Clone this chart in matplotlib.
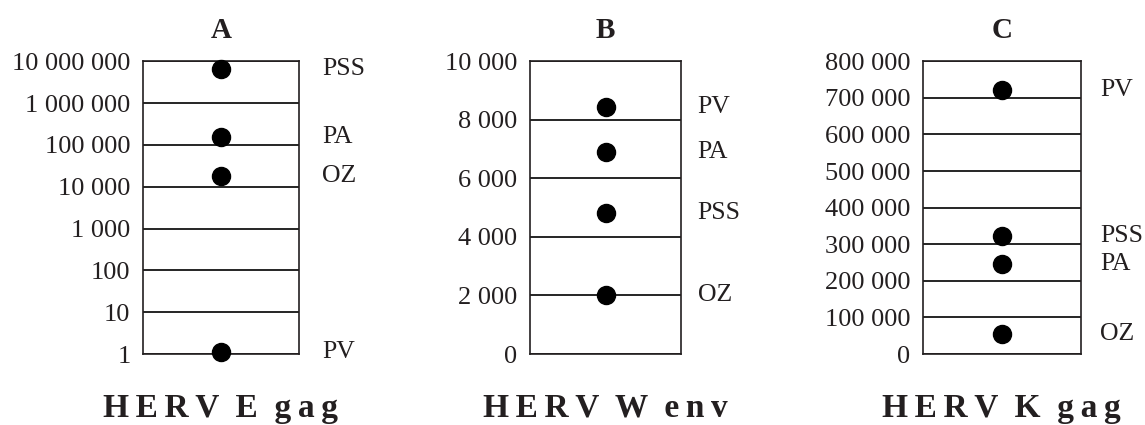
import matplotlib
matplotlib.use("Agg")
import matplotlib.pyplot as plt

plt.rcParams['font.family'] = ['Liberation Serif', 'DejaVu Serif']

# panel A: HERV E gag (log scale)
a_groups = ['PSS', 'PA', 'OZ', 'PV']
a_values = [6500000, 150000, 18000, 1.1]
a_ticks = [1, 10, 100, 1000, 10000, 100000, 1000000, 10000000]
a_ticklabels = ['1', '10', '100', '1 000', '10 000', '100 000', '1 000 000', '10 000 000']

# panel B: HERV W env
b_groups = ['PV', 'PA', 'PSS', 'OZ']
b_values = [8430, 6900, 4830, 2000]
b_ticks = [0, 2000, 4000, 6000, 8000, 10000]
b_ticklabels = ['0', '2 000', '4 000', '6 000', '8 000', '10 000']

# panel C: HERV K gag
c_groups = ['PV', 'PSS', 'PA', 'OZ']
c_values = [720000, 322000, 246000, 55000]
c_ticks = [0, 100000, 200000, 300000, 400000, 500000, 600000, 700000, 800000]
c_ticklabels = ['0', '100 000', '200 000', '300 000', '400 000', '500 000',
                '600 000', '700 000', '800 000']

panels = [
    ('A', 'H\u2009E\u2009R\u2009V  E  g\u2009a\u2009g', a_groups, a_values, a_ticks, a_ticklabels, True),
    ('B', 'H\u2009E\u2009R\u2009V  W  e\u2009n\u2009v', b_groups, b_values, b_ticks, b_ticklabels, False),
    ('C', 'H\u2009E\u2009R\u2009V  K  g\u2009a\u2009g', c_groups, c_values, c_ticks, c_ticklabels, False),
]
lefts = [0.1249, 0.4629, 0.806]
widths = [0.1362, 0.1319, 0.138]
label_x = [1.15, 1.11, 1.12]

text_col = '#231f20'
fig = plt.figure(figsize=(11.45, 4.25), dpi=100)

for (letter, name, groups, values, ticks, ticklabels, logy), left, w, lx in zip(panels, lefts, widths, label_x):
    ax = fig.add_axes([left, 0.167, w, 0.689])
    if logy:
        ax.set_yscale('log')
    ax.set_ylim(ticks[0], ticks[-1])
    ax.set_xlim(0, 1)
    ax.set_yticks(ticks)
    ax.set_yticklabels(ticklabels)
    ax.minorticks_off()
    ax.set_xticks([])
    ax.tick_params(axis='y', length=0, pad=9, labelsize=19, labelcolor=text_col)
    ax.yaxis.grid(True, color='black', linewidth=1.2)
    for sp in ax.spines.values():
        sp.set_color('#231f20')
        sp.set_linewidth(1.2)

    ax.plot([0.5] * len(values), values, 'o', color='black', markersize=13,
            linestyle='none', zorder=3, clip_on=False)
    for g, v in zip(groups, values):
        ax.text(lx, v, g, transform=ax.get_yaxis_transform(), ha='left',
                va='center', fontsize=18.5, color=text_col)

    ax.set_title(letter, fontsize=21, fontweight='bold', pad=17, color=text_col)
    ax.text(0.5, -0.215, name, transform=ax.transAxes, ha='center',
            va='baseline', fontsize=24, fontweight='bold', color=text_col)

fig.savefig('out.png', dpi=100)
